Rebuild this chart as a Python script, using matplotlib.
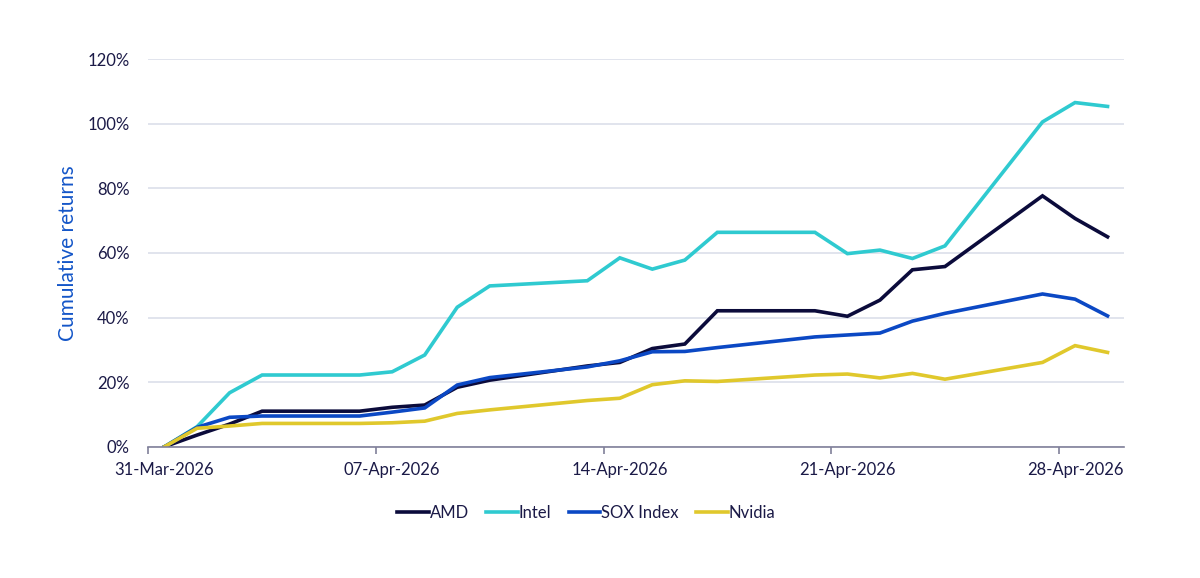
import matplotlib
matplotlib.use('Agg')
import matplotlib.pyplot as plt
import matplotlib.dates as mdates
import numpy as np
import pandas as pd

plt.rcParams['font.family'] = ['Lato', 'DejaVu Sans']

# Datos (trading days)
dates = ['2026-03-31', '2026-04-01', '2026-04-02', '2026-04-03', '2026-04-06',
         '2026-04-07', '2026-04-08', '2026-04-09', '2026-04-10', '2026-04-13',
         '2026-04-14', '2026-04-15', '2026-04-16', '2026-04-17', '2026-04-20',
         '2026-04-21', '2026-04-22', '2026-04-23', '2026-04-24', '2026-04-27',
         '2026-04-28', '2026-04-29']
amd = [0, 3.6, 7.0, 11.0, 11.0, 12.2, 12.9, 18.4, 20.6, 25.0, 26.1, 30.4,
       31.8, 42.1, 42.1, 40.4, 45.4, 54.8, 55.8, 77.7, 70.7, 65.0]
intel = [0, 6.2, 16.7, 22.2, 22.2, 23.2, 28.4, 43.2, 49.8, 51.4, 58.5, 55.0,
         57.8, 66.4, 66.4, 59.8, 60.9, 58.3, 62.2, 100.6, 106.6, 105.4]
sox = [0, 6.0, 9.1, 9.5, 9.5, 10.7, 12.0, 19.1, 21.4, 24.7, 26.6, 29.4,
       29.5, 30.7, 34.0, 34.6, 35.2, 38.9, 41.3, 47.3, 45.7, 40.5]
nvidia = [0, 5.7, 6.4, 7.2, 7.2, 7.4, 7.9, 10.3, 11.4, 14.3, 15.0, 19.2,
          20.4, 20.2, 22.2, 22.5, 21.3, 22.7, 20.9, 26.1, 31.3, 29.2]
tick_dates = ['2026-03-31', '2026-04-07', '2026-04-14', '2026-04-21', '2026-04-28']

series = [('AMD', amd, '#0b0b3b'),
          ('Intel', intel, '#2fcad0'),
          ('SOX Index', sox, '#0b48c4'),
          ('Nvidia', nvidia, '#e0c82c')]

# points sit in the middle of each day (date axis, between tick marks)
half_day = pd.Timedelta(hours=12)
x = pd.to_datetime(dates) + half_day

text_col = '#1b1a47'
fig = plt.figure(figsize=(12, 5.78), dpi=100)
ax = fig.add_axes([0.1236, 0.2272, 0.8129, 0.6702])

for name, vals, col in series:
    ax.plot(x, vals, color=col, lw=2.6, label=name, solid_joinstyle='miter')

ax.set_xlim(pd.Timestamp('2026-03-31'), pd.Timestamp('2026-04-30'))
ax.set_ylim(0, 120)
ax.set_yticks(np.arange(0, 121, 20))
ax.yaxis.set_major_formatter(matplotlib.ticker.FuncFormatter(lambda v, p: f'{v:.0f}%'))

# tick marks at day boundaries, labels centred on the day
ticks = pd.to_datetime(tick_dates)
ax.set_xticks(ticks)
ax.set_xticklabels([])
ax.set_xticks(ticks + half_day, minor=True)
ax.xaxis.set_minor_formatter(mdates.DateFormatter('%d-%b-%Y'))

ax.grid(axis='y', color='#d8dde8', lw=1.1)
ax.set_axisbelow(True)
for s in ['top', 'right', 'left']:
    ax.spines[s].set_visible(False)
ax.spines['bottom'].set_color('#80809a')
ax.spines['bottom'].set_linewidth(1.2)
ax.tick_params(axis='y', length=0, pad=13.5, labelsize=12, labelcolor=text_col)
ax.tick_params(axis='x', which='major', length=5, width=1.2, color='#80809a')
ax.tick_params(axis='x', which='minor', length=0, pad=11,
               labelsize=12, labelcolor=text_col)

ax.set_ylabel('Cumulative returns', color='#1456c8', fontsize=15, labelpad=7)

leg = ax.legend(loc='upper center', bbox_to_anchor=(0.449, -0.112), ncol=4,
                frameon=False, fontsize=12, handlelength=1.9, handletextpad=0.05,
                columnspacing=1.05, labelcolor=text_col)

fig.savefig('out.png', dpi=100)
